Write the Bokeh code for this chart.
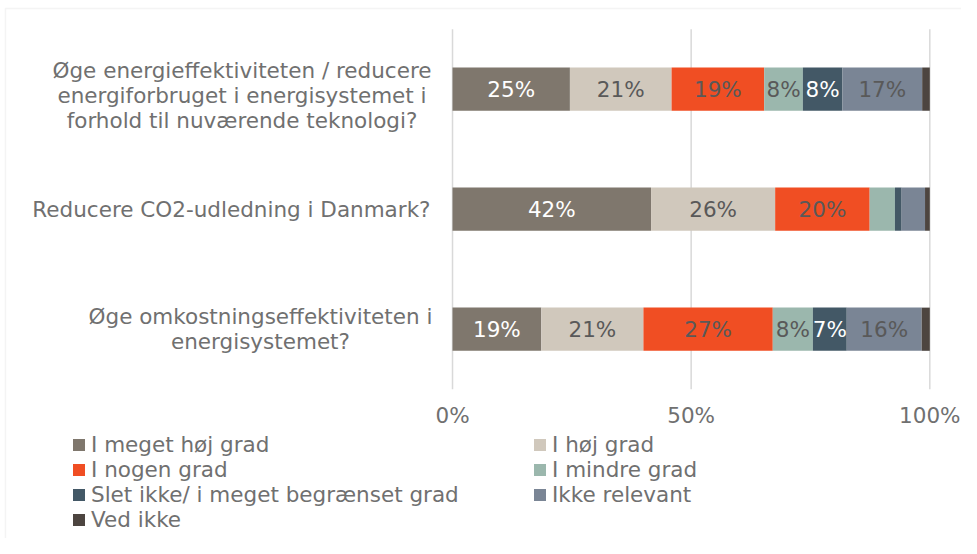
from bokeh.plotting import figure
from bokeh.models import (ColumnDataSource, Range1d, Label, Legend, LegendItem,
                          BoxAnnotation)
from bokeh.core.properties import value
from bokeh.embed import file_html
from bokeh.resources import INLINE

# ---------------- data ----------------
questions = [
    "Øge energieffektiviteten / reducere\nenergiforbruget i energisystemet i\nforhold til nuværende teknologi?",
    "Reducere CO2-udledning i Danmark?",
    "Øge omkostningseffektiviteten i\nenergisystemet?",
]
series = ["I meget høj grad", "I høj grad", "I nogen grad", "I mindre grad",
          "Slet ikke/ i meget begrænset grad", "Ikke relevant", "Ved ikke"]
colors = ["#7f776d", "#d0c8bc", "#f04e23", "#9bb7ad", "#435866", "#7a8595", "#4d4540"]
label_colors = ["white", "#595959", "#595959", "#595959", "white", "#595959", "#595959"]

meget_hoej = [24.6, 41.6, 18.6]
hoej = [21.3, 26.0, 21.4]
nogen = [19.4, 19.8, 27.1]
mindre = [8.1, 5.3, 8.4]
slet_ikke = [8.3, 1.4, 7.1]
ikke_relevant = [16.7, 4.9, 15.7]
ved_ikke = [1.6, 1.0, 1.7]

tick_values = [0, 50, 100]
tick_labels = ["0%", "50%", "100%"]

values = [meget_hoej, hoej, nogen, mindre, slet_ikke, ikke_relevant, ved_ikke]
keys = ["s%d" % i for i in range(len(series))]
ypos = [0.5, 1.5, 2.5]

FONT = "DejaVu Sans"
GRAY = "#707070"
FS = "21.5px"
W, H = 961, 538

# the whole canvas is the plot frame; plot region is x 0..100, y 0..3
p = figure(width=W, height=H, output_backend="svg", toolbar_location=None,
           x_range=Range1d(-94.70, 106.64), y_range=Range1d(4.244, -0.2392),
           min_border=0, outline_line_color=None)
p.axis.visible = False
p.grid.visible = False

# chart-area border (top and left edges)
p.add_layout(BoxAnnotation(left=-93.65, right=120, top=-0.1725, bottom=6,
                           fill_alpha=0, line_color="#d9d9d9", line_width=1.5,
                           level="underlay"))

# vertical gridlines
p.segment(x0=tick_values, x1=tick_values, y0=[0] * 3, y1=[3] * 3,
          line_color="#d9d9d9", line_width=1.5, level="underlay")

data = {"y": ypos}
for k, v in zip(keys, values):
    data[k] = v
source = ColumnDataSource(data)
renderers = p.hbar_stack(keys, y="y", height=0.36, color=colors, source=source,
                         line_color=None)

# segment labels
lx, ly, lt, lc = [], [], [], []
for j in range(len(ypos)):
    cum = 0.0
    for i, v in enumerate(values):
        val = v[j]
        if val >= 6.5:
            lx.append(cum + val / 2)
            ly.append(ypos[j])
            lt.append("%d%%" % int(val + 0.5))
            lc.append(label_colors[i])
        cum += val
lsrc = ColumnDataSource(dict(x=lx, y=ly, t=lt, c=lc))
p.text(x="x", y="y", text="t", source=lsrc, text_color="c", text_align="center",
       text_baseline="middle", text_font=value(FONT), text_font_size=FS)

# x tick labels
p.text(x=tick_values, y=[3.223] * 3, text=tick_labels, text_color=GRAY,
       text_align="center", text_baseline="middle", text_font=value(FONT),
       text_font_size=FS)

# category labels
cat_pos = [(-44.10, "center", 0.552), (-4.61, "right", 1.5), (-40.23, "center", 2.5)]
for q, (x, align, y) in zip(questions, cat_pos):
    p.add_layout(Label(x=x, y=y, text=q, text_align=align, text_baseline="middle",
                       text_font=FONT, text_font_size=FS, text_color=GRAY,
                       text_line_height=1.0))

# legends (two columns)
def make_legend(idx, loc):
    items = [LegendItem(label=series[i], renderers=[renderers[i]]) for i in idx]
    return Legend(items=items, location=loc, orientation="vertical",
                  glyph_width=15, glyph_height=15, label_standoff=5,
                  label_height=24, spacing=0, padding=0, margin=0,
                  border_line_alpha=0, background_fill_alpha=0,
                  label_text_font=FONT, label_text_font_size=FS,
                  label_text_color=GRAY)

p.add_layout(make_legend([0, 2, 4, 6], (71, 6)))
p.add_layout(make_legend([1, 3, 5], (532, 31.5)))

open("out.html", "w").write(file_html(p, INLINE))
